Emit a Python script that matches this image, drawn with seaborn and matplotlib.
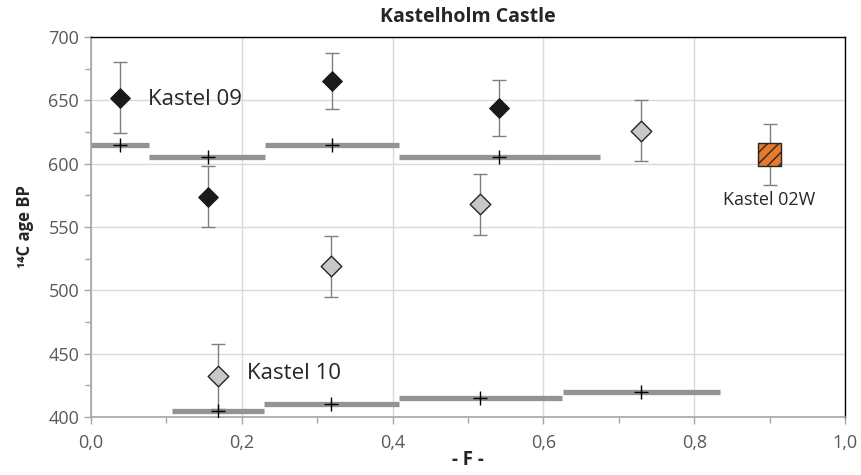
import numpy as np
import pandas as pd
import matplotlib
matplotlib.use("Agg")
import matplotlib.pyplot as plt
from matplotlib.ticker import MultipleLocator, FuncFormatter
import seaborn as sns

# Kastel 09 (black diamonds)
k09_f = [0.039, 0.155, 0.320, 0.541]
k09_age = [652, 574, 665, 644]
k09_err = [28, 24, 22, 22]
k09_model = [615, 605, 615, 605]
k09_lo = [0.0, 0.077, 0.231, 0.408]
k09_hi = [0.077, 0.231, 0.408, 0.675]

# Kastel 10 (grey diamonds)
k10_f = [0.168, 0.318, 0.516, 0.730]
k10_age = [432, 519, 568, 626]
k10_err = [26, 24, 24, 24]
k10_model = [405, 410, 415, 420]
k10_lo = [0.108, 0.229, 0.408, 0.626]
k10_hi = [0.229, 0.408, 0.625, 0.834]

# Kastel 02W
k02_f = [0.900]
k02_age = [607]
k02_err = [24]

sns.set_theme(style="whitegrid")
plt.rcParams['font.family'] = ['Open Sans', 'DejaVu Sans']
plt.rcParams['hatch.linewidth'] = 1.0

fig = plt.figure(figsize=(8.61, 4.75), dpi=100)
ax = fig.add_axes([0.1057, 0.1221, 0.8757, 0.8])

grey = '#939393'
ax.hlines(k09_model, k09_lo, k09_hi, color=grey, lw=3.8, zorder=2)
ax.hlines(k10_model, k10_lo, k10_hi, color=grey, lw=3.8, zorder=2)

eb = dict(fmt='none', ecolor='#7f7f7f', elinewidth=1, capsize=5, capthick=1, zorder=3)
ax.errorbar(k09_f, k09_age, yerr=k09_err, **eb)
ax.errorbar(k10_f, k10_age, yerr=k10_err, **eb)
ax.errorbar(k02_f, k02_age, yerr=k02_err, **eb)

sns.scatterplot(x=k09_f, y=k09_model, marker='+', s=110, color='black', linewidth=1, ax=ax, zorder=4)
sns.scatterplot(x=k10_f, y=k10_model, marker='+', s=110, color='black', linewidth=1, ax=ax, zorder=4)

sns.scatterplot(x=k09_f, y=k09_age, marker='D', s=100, color='#1a1a1a', edgecolor='#1a1a1a', linewidth=0.8, ax=ax, zorder=5)
sns.scatterplot(x=k10_f, y=k10_age, marker='D', s=110, color='#c8c8c8', edgecolor='#262626', linewidth=1, ax=ax, zorder=5)
sns.scatterplot(x=k02_f, y=k02_age, marker='s', s=280, color='#e87a2c', edgecolor='#262626', linewidth=1, hatch='///', ax=ax, zorder=5)

ax.text(0.075, 651, 'Kastel 09', fontsize=16, color='#262626', va='center', ha='left')
ax.text(0.207, 434, 'Kastel 10', fontsize=16, color='#262626', va='center', ha='left')
ax.text(0.900, 571, 'Kastel 02W', fontsize=13, color='#262626', va='center', ha='center')

ax.set_xlim(0, 1.0)
ax.set_ylim(400, 700)
ax.xaxis.set_major_locator(MultipleLocator(0.2))
ax.xaxis.set_minor_locator(MultipleLocator(0.1))
ax.yaxis.set_major_locator(MultipleLocator(50))
ax.yaxis.set_minor_locator(MultipleLocator(25))
ax.xaxis.set_major_formatter(FuncFormatter(lambda v, p: f'{v:.1f}'.replace('.', ',')))

ax.grid(True, which='major', color='#d9d9d9', lw=1)
ax.grid(False, which='minor')
ax.tick_params(axis='both', which='both', direction='out', length=5, width=1, color='#a6a6a6',
               labelcolor='#595959', labelsize=13, bottom=True, left=True)
ax.tick_params(axis='both', which='minor', length=4)
ax.tick_params(axis='x', pad=7)

for s in ['left', 'bottom']:
    ax.spines[s].set_color('#a6a6a6')
    ax.spines[s].set_linewidth(1.2)
for s in ['top', 'right']:
    ax.spines[s].set_color('black')
    ax.spines[s].set_linewidth(1)

ax.set_title('Kastelholm Castle', fontsize=14, fontweight='bold', color='#262626', pad=11)
ax.set_xlabel('- F -', fontsize=13.5, fontweight='bold', color='#262626', labelpad=-1)
ax.set_ylabel('¹⁴C age BP', fontsize=12, fontweight='bold', color='#262626', labelpad=10)

fig.savefig('out.png', dpi=100)
